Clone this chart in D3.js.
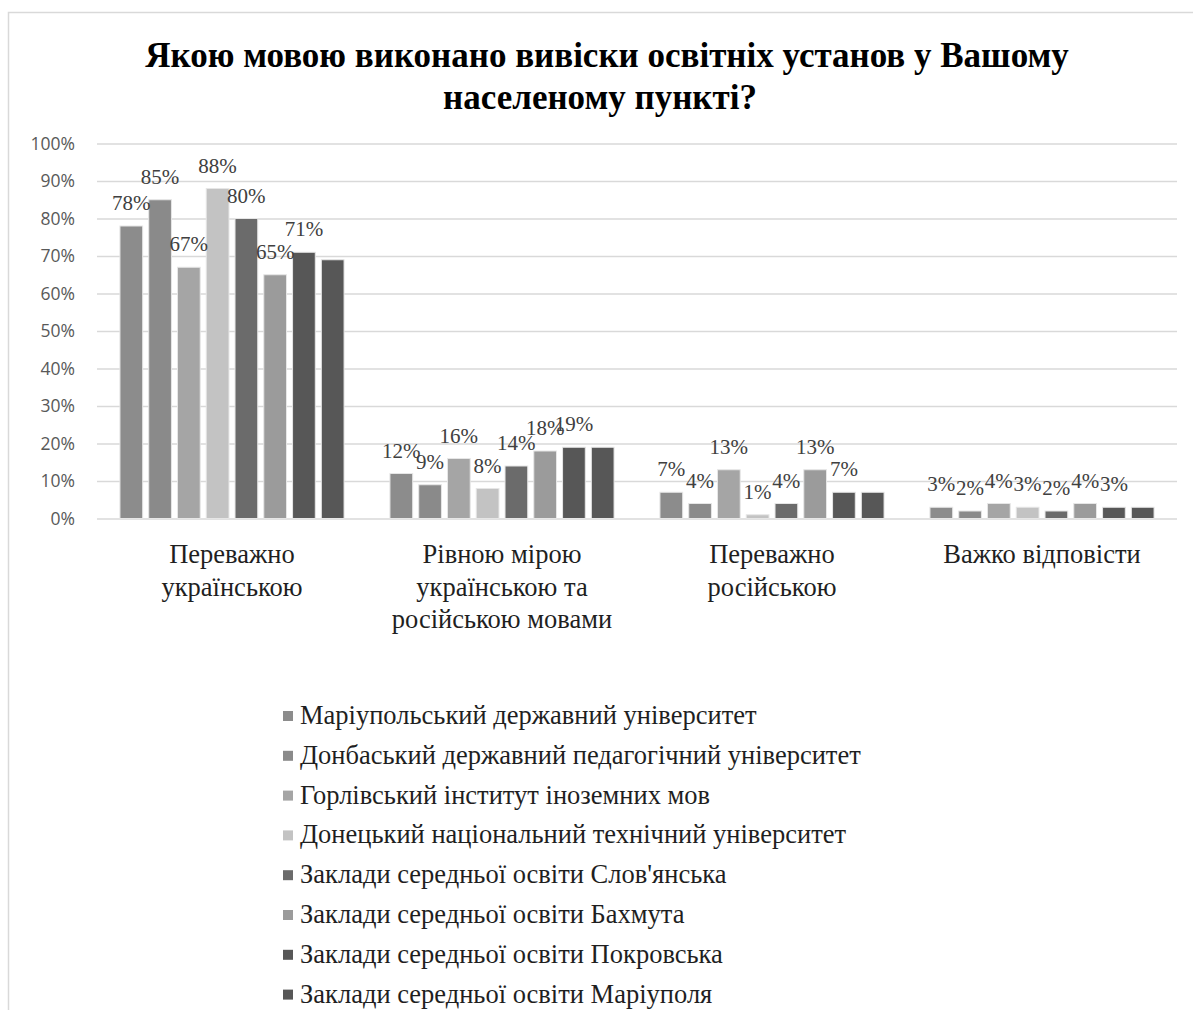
<!DOCTYPE html>
<html>
<head>
<meta charset="utf-8">
<script src="https://cdn.jsdelivr.net/npm/d3@7"></script>
<style>
  body { margin: 0; background: #fff; }
  svg { display: block; }
</style>
</head>
<body>
<svg width="1193" height="1010"></svg>
<script>
// дані з діаграми
var categories = ['Переважно українською', 'Рівною мірою українською та російською мовами', 'Переважно російською', 'Важко відповісти']
var categoryLines = [['Переважно', 'українською'], ['Рівною мірою', 'українською та', 'російською мовами'], ['Переважно', 'російською'], ['Важко відповісти']]

var seriesNames = [
    'Маріупольський державний університет',
    'Донбаський державний педагогічний університет',
    'Горлівський інститут іноземних мов',
    'Донецький національний технічний університет',
    "Заклади середньої освіти Слов'янська",
    'Заклади середньої освіти Бахмута',
    'Заклади середньої освіти Покровська',
    'Заклади середньої освіти Маріуполя'
]
var mariupolUniv = [78, 12, 7, 3]
var donbasPed = [85, 9, 4, 2]
var gorlivka = [67, 16, 13, 4]
var donetskTech = [88, 8, 1, 3]
var slovSchools = [80, 14, 4, 2]
var bakhmutSchools = [65, 18, 13, 4]
var pokrovskSchools = [71, 19, 7, 3]
var mariupolSchools = [69, 19, 7, 3]
var seriesValues = [mariupolUniv, donbasPed, gorlivka, donetskTech, slovSchools, bakhmutSchools, pokrovskSchools, mariupolSchools]
var yTicks = [0, 0.1, 0.2, 0.3, 0.4, 0.5, 0.6, 0.7, 0.8, 0.9, 1]

var colors = ['#8c8c8c', '#8a8a8a', '#a5a5a5', '#c3c3c3', '#6b6b6b', '#9b9b9b', '#575757', '#575757']

var svg = d3.select('svg')

// рамка
svg.append('path')
    .attr('d', 'M8.5,1010 V12.5 H1193')
    .attr('fill', 'none')
    .attr('stroke', '#d9d9d9')
    .attr('stroke-width', 1.5)

// заголовок
var title = svg.append('text')
    .attr('text-anchor', 'middle')
    .attr('font-family', 'Liberation Serif, serif')
    .attr('font-weight', 'bold')
    .attr('font-size', 35)
    .attr('fill', '#000')
title.append('tspan').attr('x', 607).attr('y', 67).text('Якою мовою виконано вивіски освітніх установ у Вашому')
title.append('tspan').attr('x', 600).attr('y', 109).text('населеному пункті?')

var x0 = d3.scaleBand()
    .domain(categories)
    .range([97, 1177])
    .paddingInner(0.17)
    .paddingOuter(0.085)

var x1 = d3.scaleBand()
    .domain(d3.range(seriesNames.length))
    .range([0, x0.bandwidth()])
    .paddingInner(0.21)
    .paddingOuter(0.0)

var y = d3.scaleLinear()
    .domain([0, 1])
    .range([518.5, 143.5])

// сітка
svg.append('g')
    .attr('transform', 'translate(97,0)')
    .call(d3.axisLeft(y).tickValues(yTicks).tickSize(-1080).tickFormat(''))
    .call(function(g) {
        g.select('.domain').remove()
        g.selectAll('line').attr('stroke', '#d9d9d9').attr('stroke-width', 1.3)
    })

// підписи осі Y
svg.append('g')
    .attr('transform', 'translate(97,0)')
    .call(d3.axisLeft(y).tickValues(yTicks).tickSize(0).tickPadding(22).tickFormat(d3.format('.0%')))
    .call(function(g) {
        g.select('.domain').remove()
        g.selectAll('text')
            .attr('font-family', 'Open Sans, sans-serif')
            .attr('font-size', 17.5)
            .attr('fill', '#595959')
    })

// стовпці
var groups = svg.selectAll('g.cat')
    .data(categories)
    .enter()
    .append('g')
    .attr('class', 'cat')
    .attr('transform', function(d) { return 'translate(' + x0(d) + ',0)' })

groups.selectAll('rect')
    .data(function(d, ci) {
        return seriesValues.map(function(vals, si) { return {si: si, v: vals[ci] / 100} })
    })
    .enter()
    .append('rect')
    .attr('x', function(d) { return x1(d.si) })
    .attr('width', x1.bandwidth())
    .attr('y', function(d) { return y(d.v) })
    .attr('height', function(d) { return y(0) - y(d.v) })
    .attr('fill', function(d) { return colors[d.si] })
    .attr('stroke', '#e6e6e6')
    .attr('stroke-width', 1)

// підписи значень (у останньої серії їх немає)
groups.selectAll('text.lbl')
    .data(function(d, ci) {
        return seriesValues.slice(0, 7).map(function(vals, si) { return {si: si, v: vals[ci] / 100} })
    })
    .enter()
    .append('text')
    .attr('class', 'lbl')
    .attr('x', function(d) { return x1(d.si) + x1.bandwidth() / 2 })
    .attr('y', function(d) { return y(d.v) - 16 })
    .attr('text-anchor', 'middle')
    .attr('font-family', 'Liberation Serif, serif')
    .attr('font-size', 21)
    .attr('fill', '#404040')
    .text(function(d) { return d3.format('.0%')(d.v) })

// підписи категорій
var catText = svg.selectAll('text.catlbl')
    .data(categories)
    .enter()
    .append('text')
    .attr('class', 'catlbl')
    .attr('text-anchor', 'middle')
    .attr('font-family', 'Liberation Serif, serif')
    .attr('font-size', 26.5)
    .attr('fill', '#1f1f1f')

catText.selectAll('tspan')
    .data(function(d, i) { return categoryLines[i].map(function(t) { return {t: t, c: d} }) })
    .enter()
    .append('tspan')
    .attr('x', function(d) { return x0(d.c) + x0.bandwidth() / 2 })
    .attr('y', function(d, i) { return 563 + i * 32.5 })
    .text(function(d) { return d.t })

// легенда
var legend = svg.selectAll('g.leg')
    .data(seriesNames)
    .enter()
    .append('g')
    .attr('class', 'leg')
    .attr('transform', function(d, i) { return 'translate(283,' + (716 + i * 39.8) + ')' })

legend.append('rect')
    .attr('x', 0)
    .attr('y', -5)
    .attr('width', 10)
    .attr('height', 10)
    .attr('fill', function(d, i) { return colors[i] })

legend.append('text')
    .attr('x', 17)
    .attr('y', 8)
    .attr('font-family', 'Liberation Serif, serif')
    .attr('font-size', 26.5)
    .attr('fill', '#1f1f1f')
    .text(function(d) { return d })
</script>
</body>
</html>
